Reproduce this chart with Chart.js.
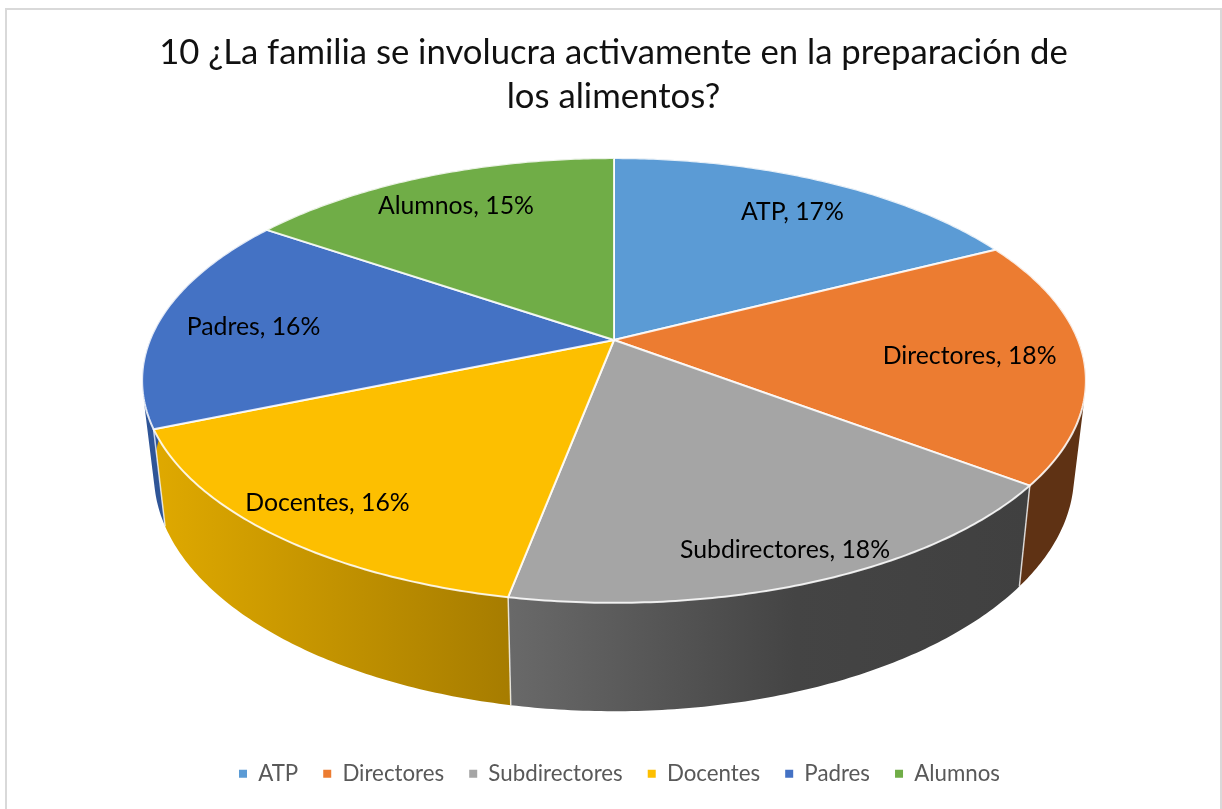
<!DOCTYPE html>
<html><head><meta charset="utf-8">
<script src="https://cdn.jsdelivr.net/npm/chart.js@4"></script>
<style>html,body{margin:0;padding:0;background:#fff;overflow:hidden}#w{position:absolute;left:0;top:0;width:1222px;height:809px}</style>
</head><body><div id="w"><canvas id="c" width="1222" height="809"></canvas></div>
<script>
const categories = ['ATP','Directores','Subdirectores','Docentes','Padres','Alumnos'];
const values = [17.49,17.81,17.7,15.7,15.85,15.45];
const topColors = ['#5B9BD5','#EC7C31','#A5A5A5','#FDBF00','#4472C4','#70AD47'];
const titleLines = ['10 ¿La familia se involucra activamente en la preparación de','los alimentos?'];
const FONT = 'Lato, Carlito, sans-serif';
// perspective view of the pie disc
const VIEW = {cx:614, cy:340, a:464, b:215, k:0.182};
const labelRadius = [.806,.76,.88,.855,.79,.81];
const labelAlong = [.515,.5,.503,.507,.487,.49];
function project(angle, r){
  const X = Math.cos(angle)*r, Y = Math.sin(angle)*r, d = 1 - VIEW.k*Y;
  return [VIEW.cx + VIEW.a*X/d, VIEW.cy + VIEW.b*Y/d];
}
function lower(p){ return [VIEW.cx + .975*(p[0]-VIEW.cx), 525 + 1.065*(p[1]-428)]; }
function rim(a0,a1){ const n=Math.max(8,Math.ceil((a1-a0)*90)), o=[]; for(let i=0;i<=n;i++) o.push(project(a0+(a1-a0)*i/n,1)); return o; }
function sideStyle(ctx,i){
  if(i===2){const g=ctx.createLinearGradient(510,0,1030,0);g.addColorStop(0,'#696969');g.addColorStop(.55,'#444444');g.addColorStop(1,'#404040');return g;}
  if(i===3){const g=ctx.createLinearGradient(155,0,512,0);g.addColorStop(0,'#dfa900');g.addColorStop(1,'#a67c00');return g;}
  return ['#2f5f88','#5f3214','','','#2f5597','#4a7530'][i];
}
function quad(c,a,b,d,e){
  const pts=[a,b,d,e]; let s=0;
  for(let i=0;i<4;i++){const p=pts[i],q=pts[(i+1)%4]; s+=p[0]*q[1]-q[0]*p[1];}
  if(s<0) pts.reverse();
  pts.forEach((p,i)=>i?c.lineTo(p[0],p[1]):c.moveTo(p[0],p[1])); c.closePath();
}
const pie3d = {
  id:'pie3d',
  afterLayout(chart){ chart.legend.left+=6; chart.legend.right+=6; },
  beforeDraw(chart){
    const c=chart.ctx; c.save(); c.strokeStyle='#d9d9d9'; c.lineWidth=2; c.strokeRect(6,9,1215,820); c.restore();
  },
  beforeDatasetsDraw(chart){
    const c=chart.ctx, arcs=chart.getDatasetMeta(0).data;
    c.save(); c.lineJoin='round';
    // side wall: surface swept between the top rim and the lower rim
    arcs.forEach((el,i)=>{
      const up=rim(el.startAngle,el.endAngle), lo=up.map(lower);
      c.beginPath();
      for(let j=0;j<up.length-1;j++) quad(c,up[j],up[j+1],lo[j+1],lo[j]);
      c.fillStyle=sideStyle(c,i); c.fill('nonzero');
    });
    // wall seams
    c.strokeStyle='rgba(255,255,255,.75)'; c.lineWidth=1.5;
    arcs.forEach((el,i)=>{
      if(i<1||i>3) return;
      const p=project(el.endAngle,1), q=lower(p);
      c.beginPath(); c.moveTo(p[0],p[1]); c.lineTo(q[0],q[1]); c.stroke();
    });
    // top face
    arcs.forEach((el,i)=>{
      c.beginPath(); c.moveTo(VIEW.cx,VIEW.cy);
      rim(el.startAngle,el.endAngle).forEach(p=>c.lineTo(p[0],p[1])); c.closePath();
      c.fillStyle=el.options.backgroundColor; c.fill();
      c.strokeStyle='rgba(255,255,255,.85)'; c.lineWidth=2; c.stroke();
    });
    // labels
    c.fillStyle='#000'; c.font='24.8px '+FONT; c.textAlign='center'; c.textBaseline='middle';
    arcs.forEach((el,i)=>{
      const m=el.startAngle+(el.endAngle-el.startAngle)*labelAlong[i], p=project(m,labelRadius[i]);
      c.fillText(categories[i]+', '+Math.round(values[i])+'%',p[0],p[1]+2);
    });
    c.restore();
    return false;
  }
};
new Chart(document.getElementById('c'),{
  type:'pie',
  data:{labels:categories,datasets:[{data:values,backgroundColor:topColors,borderWidth:0}]},
  plugins:[pie3d],
  options:{
    responsive:false,animation:false,
    events:[],
    layout:{padding:{left:5,bottom:14}},
    plugins:{
      tooltip:{enabled:false},
      title:{display:true,text:titleLines,color:'#111',font:{family:FONT,size:34.7,weight:'normal',lineHeight:1.27},padding:{top:31,bottom:10}},
      legend:{position:'bottom',labels:{color:'#595959',font:{family:FONT,size:22.3},boxWidth:8,boxHeight:8,padding:25}}
    }
  }
});
</script></body></html>
